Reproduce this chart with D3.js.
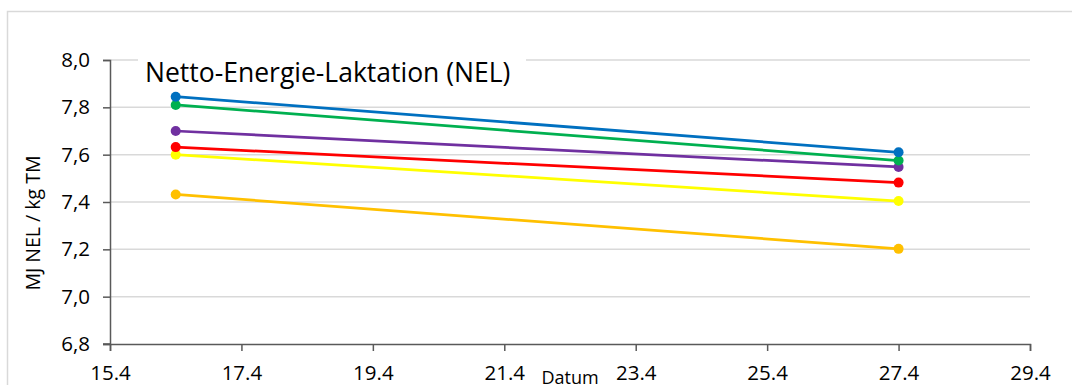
<!DOCTYPE html>
<html>
<head>
<meta charset="utf-8">
<script src="https://cdn.jsdelivr.net/npm/d3@7"></script>
<style>
    body { margin: 0; background: #fff; }
    text { font-family: "Open Sans", Lato, sans-serif; fill: #000; }
    .axis path, .axis line { stroke: #595959; }
    .grid line { stroke: #d9d9d9; stroke-width: 1.5; }
</style>
</head>
<body>
<div id="chart"></div>
<script>
// days in April
var days = [16.4, 27.4];
var xTicks = [15.4, 17.4, 19.4, 21.4, 23.4, 25.4, 27.4, 29.4];
var yTicks = [6.8, 7.0, 7.2, 7.4, 7.6, 7.8, 8.0];

// one array per line (NEL, MJ / kg TM)
var blueVals = [7.845, 7.61];
var greenVals = [7.81, 7.575];
var purpleVals = [7.70, 7.548];
var redVals = [7.632, 7.482];
var yellowVals = [7.60, 7.404];
var orangeVals = [7.432, 7.202];

var seriesColors = ["#0070C0", "#00B050", "#7030A0", "#FF0000", "#FFFF00", "#FFC000"];
var seriesVals = [blueVals, greenVals, purpleVals, redVals, yellowVals, orangeVals];

var svg = d3.select("#chart").append("svg")
    .attr("width", 1072)
    .attr("height", 385);

// outer frame of the chart
svg.append("rect")
    .attr("x", 7.5).attr("y", 11.5)
    .attr("width", 1080).attr("height", 400)
    .attr("fill", "none")
    .attr("stroke", "#d9d9d9")
    .attr("stroke-width", 1.5);

var margin = {top: 60, left: 110, right: 42, bottom: 41},
    width = 1072 - margin.left - margin.right,
    height = 385 - margin.top - margin.bottom;

var g = svg.append("g").attr("transform", "translate(" + margin.left + "," + margin.top + ")");

var x = d3.scaleLinear().domain([15.4, 29.4]).range([0, width]);
var y = d3.scaleLinear().domain([6.8, 8.0]).range([height, 0]);

var fmtY = function (d) { return d.toFixed(1).replace(".", ","); };

// gridlines
g.append("g").attr("class", "grid")
    .selectAll("line")
    .data(yTicks.slice(1))
    .enter().append("line")
    .attr("x1", 0).attr("x2", width)
    .attr("y1", function (d) { return y(d); })
    .attr("y2", function (d) { return y(d); });

// title box hides the top gridline
g.append("rect")
    .attr("x", 28).attr("y", -14)
    .attr("width", 388).attr("height", 38)
    .attr("fill", "#fff");
g.append("text")
    .attr("x", 35).attr("y", 22)
    .style("font-size", "26.5px")
    .text("Netto-Energie-Laktation (NEL)");

// Y axis
var yAxis = g.append("g")
    .attr("class", "axis")
    .call(d3.axisLeft(y).tickValues(yTicks).tickFormat(fmtY).tickSizeOuter(0).tickSize(7));
yAxis.select(".domain").attr("stroke-width", 1.5);
yAxis.selectAll(".tick line").attr("stroke-width", 1.5);
yAxis.selectAll("text").style("font-size", "20.5px").attr("x", -20);

// X axis
var xAxis = g.append("g")
    .attr("class", "axis")
    .attr("transform", "translate(0," + height + ")")
    .call(d3.axisBottom(x).tickValues(xTicks).tickFormat(function (d) { return d.toFixed(1); }).tickSizeOuter(0).tickSize(7));
xAxis.select(".domain").attr("stroke-width", 1.5);
xAxis.selectAll(".tick line").attr("stroke-width", 1.5);
xAxis.selectAll("text").style("font-size", "20.5px").attr("y", 36).attr("dy", 0);
// small stub of the x axis left of the y axis
xAxis.append("line").attr("x1", -7).attr("x2", 0).attr("stroke", "#595959").attr("stroke-width", 1.5);

// axis titles
svg.append("text")
    .attr("transform", "translate(40,223) rotate(-90)")
    .attr("text-anchor", "middle")
    .style("font-size", "19.5px")
    .text("MJ NEL / kg TM");
svg.append("text")
    .attr("x", 570).attr("y", 384)
    .attr("text-anchor", "middle")
    .style("font-size", "18px")
    .text("Datum");

// lines + markers
var line = d3.line()
    .x(function (d) { return x(d[0]); })
    .y(function (d) { return y(d[1]); });

seriesVals.slice().reverse().forEach(function (vals, j) {
    var i = seriesVals.length - 1 - j;
    var pts = days.map(function (d, k) { return [d, vals[k]]; });
    g.append("path")
        .attr("d", line(pts))
        .attr("fill", "none")
        .attr("stroke", seriesColors[i])
        .attr("stroke-width", 2.75);
    g.selectAll(".dot" + i)
        .data(pts)
        .enter().append("circle")
        .attr("class", "dot" + i)
        .attr("r", 5)
        .attr("cx", function (d) { return x(d[0]); })
        .attr("cy", function (d) { return y(d[1]); })
        .attr("fill", seriesColors[i]);
});
</script>
</body>
</html>
